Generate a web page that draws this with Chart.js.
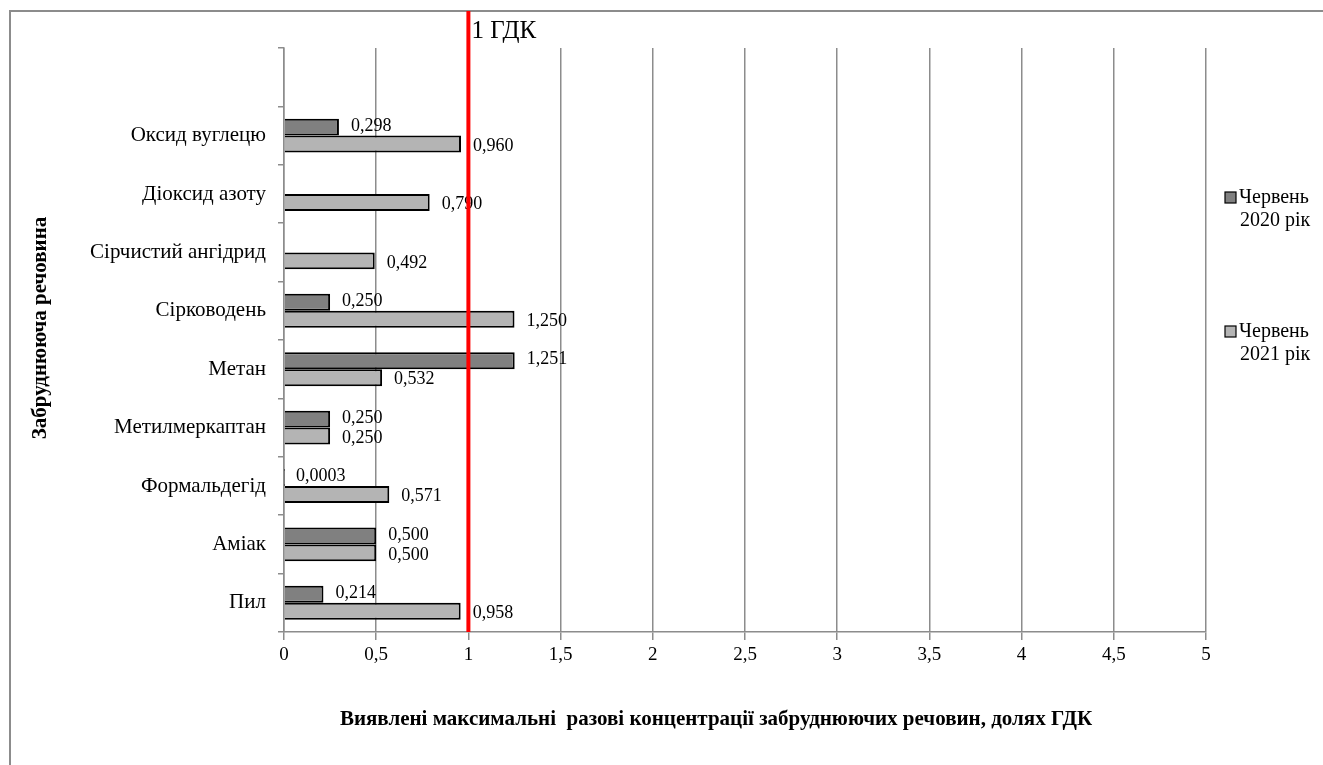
<!DOCTYPE html>
<html>
<head>
<meta charset="utf-8">
<script src="https://cdn.jsdelivr.net/npm/chart.js@4"></script>
<style>
    body { margin: 0; background: #fff; }
    #wrap { position: relative; width: 1323px; height: 765px; }
    #frame { position: absolute; left: 9px; top: 10px; right: -5px; bottom: -5px; border-left: 2px solid #8c8c8c; border-top: 2px solid #8c8c8c; }
    canvas { position: absolute; left: 0; top: 0; }
</style>
</head>
<body>
<div id="wrap">
    <div id="frame"></div>
    <canvas id="chart" width="1323" height="765"></canvas>
</div>
<script>
// Data
const substances = ['', 'Оксид вуглецю', 'Діоксид азоту', 'Сірчистий ангідрид', 'Сірководень', 'Метан', 'Метилмеркаптан', 'Формальдегід', 'Аміак', 'Пил'];
const june2020 = [null, 0.298, null, null, 0.250, 1.251, 0.250, 0.0003, 0.500, 0.214];
const june2021 = [null, 0.960, 0.790, 0.492, 1.250, 0.532, 0.250, 0.571, 0.500, 0.958];
const xTicks = [0, 0.5, 1, 1.5, 2, 2.5, 3, 3.5, 4, 4.5, 5];
const limitValue = 1;

const serif = '"Liberation Serif", "Times New Roman", serif';

function fmt(v) {
    const s = v < 0.001 ? v.toFixed(4) : v.toFixed(3);
    return s.replace('.', ',');
}

// Labels, red line, titles and legend drawn on top
const extras = {
    id: 'extras',
    afterDatasetsDraw(chart) {
        const ctx = chart.ctx;
        const x = chart.scales.x;
        const area = chart.chartArea;
        ctx.save();

        // value labels
        ctx.font = '18px ' + serif;
        ctx.fillStyle = '#000';
        ctx.textBaseline = 'middle';
        ctx.textAlign = 'left';
        chart.data.datasets.forEach((ds, di) => {
            chart.getDatasetMeta(di).data.forEach((bar, i) => {
                const v = ds.data[i];
                if (v === null) return;
                ctx.fillText(fmt(v), bar.x + 12, bar.y + (di === 0 ? -1 : 2));
            });
        });

        // limit line
        const lx = x.getPixelForValue(limitValue);
        ctx.strokeStyle = '#ff0000';
        ctx.lineWidth = 4;
        ctx.beginPath();
        ctx.moveTo(lx, 11);
        ctx.lineTo(lx, area.bottom);
        ctx.stroke();
        ctx.font = '25px ' + serif;
        ctx.textAlign = 'left';
        ctx.fillText('1 ГДК', lx + 3, 31);

        // axis titles
        ctx.font = 'bold 21px ' + serif;
        ctx.textAlign = 'center';
        ctx.fillText('Виявлені максимальні  разові концентрації забруднюючих речовин, долях ГДК', 716, 720);
        ctx.translate(41, 328);
        ctx.rotate(-Math.PI / 2);
        ctx.fillText('Забруднююча речовина', 0, 0);
        ctx.setTransform(1, 0, 0, 1, 0, 0);

        // legend
        const items = [['Червень', '2020 рік', 198], ['Червень', '2021 рік', 332]];
        ctx.font = '20px ' + serif;
        ctx.textAlign = 'left';
        items.forEach((it, k) => {
            const ds = chart.data.datasets[k];
            ctx.fillStyle = ds.backgroundColor;
            ctx.fillRect(1225, it[2] - 6, 11, 11);
            ctx.strokeStyle = '#000';
            ctx.lineWidth = 1.2;
            ctx.strokeRect(1225, it[2] - 6, 11, 11);
            ctx.fillStyle = '#000';
            ctx.fillText(it[0], 1239, it[2]);
            ctx.fillText(it[1], 1240, it[2] + 23);
        });
        ctx.restore();
    }
};

new Chart(document.getElementById('chart'), {
    type: 'bar',
    data: {
        labels: substances,
        datasets: [{
            label: 'Червень 2020 рік',
            data: june2020,
            backgroundColor: '#808080',
            borderColor: '#000',
            borderWidth: 2,
            barPercentage: 1,
            categoryPercentage: 0.58
        }, {
            label: 'Червень 2021 рік',
            data: june2021,
            backgroundColor: '#b4b4b4',
            borderColor: '#000',
            borderWidth: 2,
            barPercentage: 1,
            categoryPercentage: 0.58
        }]
    },
    options: {
        indexAxis: 'y',
        responsive: false,
        animation: false,
        layout: { padding: { left: 0, right: 117, top: 48, bottom: 0 } },
        plugins: {
            legend: { display: false },
            tooltip: { enabled: false }
        },
        scales: {
            x: {
                min: 0,
                max: 5,
                afterBuildTicks: (s) => { s.ticks = xTicks.map(v => ({ value: v })); },
                afterFit: (s) => { s.height = 765 - 632; },
                grid: { color: '#8c8c8c', lineWidth: 1.5, tickLength: 8 },
                border: { color: '#8c8c8c', width: 1.5 },
                ticks: {
                    color: '#000',
                    font: { family: serif, size: 19 },
                    padding: 4,
                    maxRotation: 0,
                    callback: (v) => String(v).replace('.', ',')
                }
            },
            y: {
                afterFit: (s) => { s.width = 284; },
                grid: { drawOnChartArea: false, color: '#8c8c8c', lineWidth: 1.5, tickLength: 6 },
                border: { color: '#8c8c8c', width: 1.5 },
                ticks: {
                    color: '#000',
                    font: { family: serif, size: 21 },
                    padding: 12
                }
            }
        }
    },
    plugins: [extras]
});
</script>
</body>
</html>
